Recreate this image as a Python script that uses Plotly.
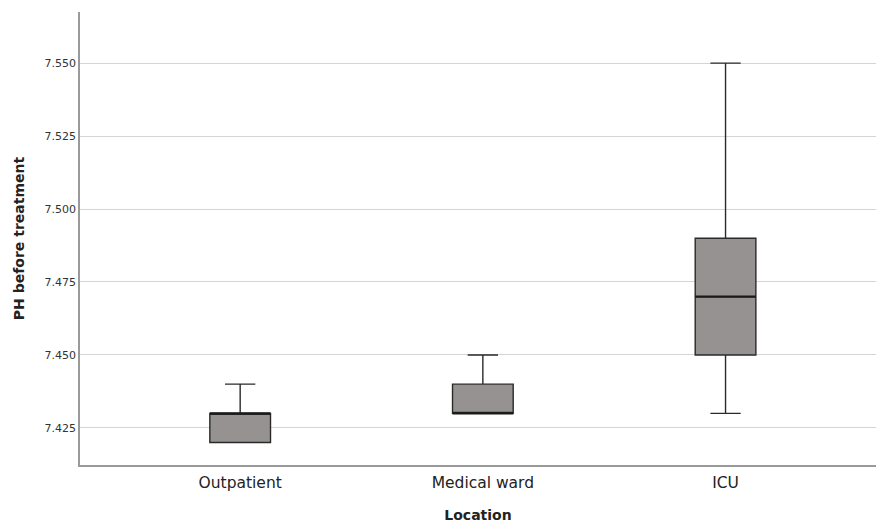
import plotly.graph_objects as go

categories = ["Outpatient", "Medical ward", "ICU"]
lower = [7.420, 7.430, 7.430]
q1 = [7.420, 7.430, 7.450]
median = [7.430, 7.430, 7.470]
q3 = [7.430, 7.440, 7.490]
upper = [7.440, 7.450, 7.550]
y_ticks = [7.425, 7.450, 7.475, 7.500, 7.525, 7.550]

fig = go.Figure()
fig.add_trace(go.Box(
    x=categories, q1=q1, median=median, q3=q3,
    lowerfence=lower, upperfence=upper,
    fillcolor="#969292",
    line=dict(color="#2a2a2a", width=1.4),
    width=0.25, whiskerwidth=0.5,
    boxpoints=False, showlegend=False, hoverinfo="skip",
))
# thicker median line overlay
fig.add_trace(go.Box(
    x=categories, q1=median, median=median, q3=median,
    lowerfence=median, upperfence=median,
    fillcolor="rgba(0,0,0,0)",
    line=dict(color="#1a1a1a", width=2.4),
    width=0.25, whiskerwidth=0.5,
    boxpoints=False, showlegend=False, hoverinfo="skip",
))

fig.update_layout(
    width=876, height=523,
    margin=dict(l=80, r=0, t=12, b=58),
    plot_bgcolor="white", paper_bgcolor="white",
    font=dict(family="DejaVu Sans", color="#222"),
    boxmode="overlay",
)
fig.update_xaxes(
    type="category", range=[-0.66, 2.62],
    showline=True, linecolor="#9a9a9a", linewidth=1.5,
    showgrid=False, ticks="",
    tickfont=dict(size=15.5, color="#222"),
    ticklabelstandoff=3,
    title=dict(text="<b>Location</b>", font=dict(size=14, color="#222"), standoff=19),
)
fig.update_yaxes(
    range=[7.4123, 7.5675],
    tickvals=y_ticks, ticktext=[f"{v:.3f}" for v in y_ticks],
    showline=True, linecolor="#9a9a9a", linewidth=1.5,
    showgrid=True, gridcolor="#d4d4d4", gridwidth=1.3,
    zeroline=False, ticks="",
    tickfont=dict(size=11, color="#333"),
    title=dict(text="<b>PH before treatment</b>", font=dict(size=14, color="#222"), standoff=17),
)

fig.write_html("out.html", config={"displayModeBar": False})
with open("out.html", encoding="utf-8") as f:
    html = f.read()
html = html.replace("<head>", "<head><style>html,body{margin:0;padding:0;overflow:hidden;}</style>", 1)
with open("out.html", "w", encoding="utf-8") as f:
    f.write(html)
